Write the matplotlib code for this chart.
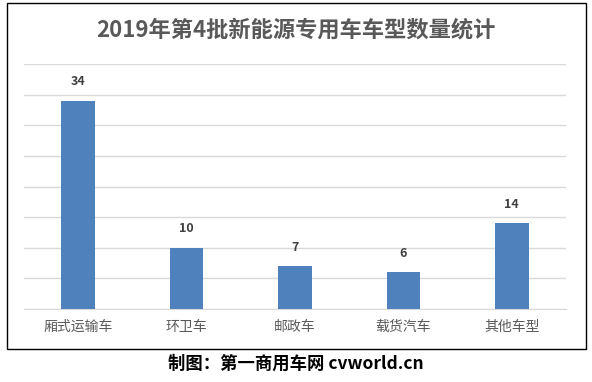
import matplotlib
matplotlib.use("Agg")
import matplotlib.pyplot as plt
from matplotlib.patches import Rectangle

plt.rcParams['font.family'] = ['Noto Sans CJK SC', 'DejaVu Sans']

categories = ['厢式运输车', '环卫车', '邮政车', '载货汽车', '其他车型']
values = [34, 10, 7, 6, 14]
title = '2019年第4批新能源专用车车型数量统计'
caption = '制图：第一商用车网 cvworld.cn'

fig = plt.figure(figsize=(5.92, 3.82), dpi=100)
fig.patch.set_facecolor('white')

# outer border
fig.patches.append(Rectangle((7/592, 1-349/382), (586-7)/592, (349-3)/382,
                             transform=fig.transFigure, fill=False,
                             edgecolor='black', linewidth=1.0))

ax = fig.add_axes([24/592, 1-309/382, (566-24)/592, (309-64)/382])
x = range(len(categories))
ax.bar(x, values, width=0.31, color='#4F81BD', zorder=3)
ax.set_ylim(0, 40)
ax.set_xlim(-0.5, len(categories)-0.5)
ax.set_yticks(range(0, 41, 5))
ax.yaxis.grid(True, color='#D9D9D9', linewidth=1.0, zorder=0)
ax.set_yticklabels([])
ax.tick_params(axis='y', length=0)
ax.tick_params(axis='x', length=0, pad=8, labelsize=10, labelcolor='#595959')
ax.set_xticks(list(x))
ax.set_xticklabels(categories)
for s in ['top', 'right', 'left']:
    ax.spines[s].set_visible(False)
ax.spines['bottom'].set_color('#D9D9D9')

for xi, v in zip(x, values):
    ax.annotate(str(v), (xi, v), xytext=(0, 9), textcoords='offset points',
                ha='center', va='bottom', fontsize=9, color='#404040',
                fontweight='bold')

fig.text(0.5, 1-30/382, title, ha='center', va='center', fontsize=16,
         fontweight='bold', color='#595959')
fig.text(0.5, 1-364/382, caption, ha='center', va='center', fontsize=12.5,
         fontweight='bold', color='black')

fig.savefig('out.png', dpi=100)
